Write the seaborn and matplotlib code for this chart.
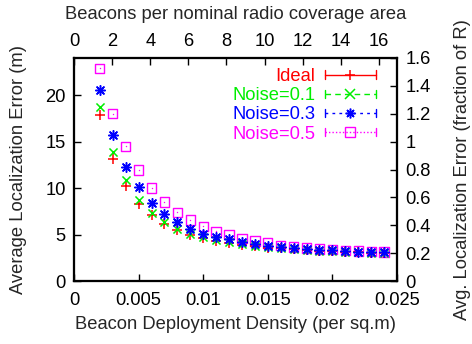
import matplotlib
matplotlib.use("Agg")
import matplotlib.pyplot as plt
import seaborn as sns
import pandas as pd
from matplotlib.lines import Line2D
from matplotlib.legend_handler import HandlerLine2D
from matplotlib.ticker import FuncFormatter

density = [0.002, 0.003, 0.004, 0.005, 0.006, 0.007, 0.008, 0.009, 0.010, 0.011, 0.012,
           0.013, 0.014, 0.015, 0.016, 0.017, 0.018, 0.019, 0.020, 0.021, 0.022, 0.023, 0.024]
ideal = [17.9, 13.1, 10.2, 8.3, 7.05, 6.1, 5.45, 5.0, 4.6, 4.3, 4.1, 3.9, 3.75, 3.6, 3.5,
         3.4, 3.33, 3.25, 3.18, 3.12, 3.07, 3.03, 3.0]
noise01 = [18.7, 13.9, 10.85, 8.75, 7.3, 6.3, 5.55, 5.07, 4.72, 4.4, 4.17, 3.97, 3.8, 3.66,
           3.54, 3.44, 3.36, 3.28, 3.21, 3.15, 3.1, 3.06, 3.02]
noise03 = [20.6, 15.7, 12.3, 10.1, 8.4, 7.2, 6.3, 5.6, 5.1, 4.7, 4.5, 4.22, 4.0, 3.82, 3.66,
           3.58, 3.48, 3.38, 3.3, 3.22, 3.16, 3.12, 3.08]
noise05 = [22.9, 18.0, 14.5, 11.95, 10.0, 8.5, 7.4, 6.55, 5.9, 5.35, 4.97, 4.6, 4.3, 4.1,
           3.85, 3.66, 3.54, 3.46, 3.36, 3.29, 3.22, 3.18, 3.12]
labels = ["Ideal", "Noise=0.1", "Noise=0.3", "Noise=0.5"]
colors = ["#ff0000", "#00ee00", "#0000ff", "#ff00ff"]
x_ticks = [0, 0.005, 0.01, 0.015, 0.02, 0.025]
y_ticks = [0, 5, 10, 15, 20]
top_ticks = [0, 2, 4, 6, 8, 10, 12, 14, 16]
right_ticks = [0, 0.2, 0.4, 0.6, 0.8, 1.0, 1.2, 1.4, 1.6]
R = 15.0
beacons_per_density = 678.0
FS = 13.2

sns.set_theme(style="white")
plt.rcParams['font.family'] = ['Liberation Sans', 'DejaVu Sans']
plt.rcParams['font.size'] = FS

fig = plt.figure(figsize=(4.72, 3.44), dpi=100)
ax = fig.add_axes([74/472, 1 - 281/344, 323/472, 223/344])

series = [ideal, noise01, noise03, noise05]
markers = ["+", "x", (8, 2, 0), "s"]
sizes = [45, 34, 48, 45]
for vals, lab, col, mk, sz in zip(series, labels, colors, markers, sizes):
    df = pd.DataFrame({"density": density, "err": vals})
    if mk == "s":
        sns.scatterplot(data=df, x="density", y="err", marker="s", s=sz, ax=ax,
                        facecolor="none", edgecolor=col, linewidth=1.0, zorder=2)
        sns.scatterplot(data=df, x="density", y="err", marker=".", s=4, ax=ax,
                        color=col, linewidth=0, zorder=2)
    else:
        sns.scatterplot(data=df, x="density", y="err", marker=mk, s=sz, ax=ax,
                        color=col, linewidth=1.1, zorder=3)

ax.set_xlim(0, 0.025)
ax.set_ylim(0, 24)
ax.set_xticks(x_ticks)
ax.set_yticks(y_ticks)
ax.xaxis.set_major_formatter(FuncFormatter(lambda v, p: "%g" % v))
ax.tick_params(direction="in", length=5, width=1, labelsize=FS, pad=6, color="black",
               labelcolor="black")
ax.tick_params(axis="x", pad=8)
ax.set_xlabel("Beacon Deployment Density (per sq.m)", fontsize=FS, labelpad=5)
ax.set_ylabel("Average Localization Error (m)", fontsize=FS, labelpad=13)
for sp in ax.spines.values():
    sp.set_linewidth(1.5)
    sp.set_color("black")

ax2 = ax.twinx()
ax2.set_ylim(0, 24 / R)
ax2.set_yticks(right_ticks)
ax2.yaxis.set_major_formatter(FuncFormatter(lambda v, p: "%g" % round(v, 1)))
ax2.set_ylabel("Avg. Localization Error (fraction of R)", fontsize=FS, labelpad=17)
ax2.tick_params(direction="in", length=5, width=1, labelsize=FS, pad=6, colors="black")

ax3 = ax.twiny()
ax3.set_xlim(0, 0.025 * beacons_per_density)
ax3.set_xticks(top_ticks)
ax3.set_xlabel("Beacons per nominal radio coverage area", fontsize=FS, labelpad=10)
ax3.tick_params(direction="in", length=5, width=1, labelsize=FS, pad=6, colors="black")
for a in (ax2, ax3):
    for sp in a.spines.values():
        sp.set_linewidth(1.5)
        sp.set_color("black")


class CapHandler(HandlerLine2D):
    def create_artists(self, legend, orig_handle, xdescent, ydescent, width, height,
                       fontsize, trans):
        arts = super().create_artists(legend, orig_handle, xdescent, ydescent, width,
                                      height, fontsize, trans)
        yc = (height - ydescent) / 2
        h = 3.0
        for xx in (-xdescent, -xdescent + width):
            cap = Line2D([xx, xx], [yc - h, yc + h], color=orig_handle.get_color(),
                         linewidth=1.0, transform=trans)
            arts.append(cap)
        return arts


styles = ["-", (0, (4, 3)), (0, (2, 3)), (0, (1, 1.5))]
handles = []
for lab, col, mk, ls in zip(labels, colors, markers, styles):
    if mk == "s":
        h = Line2D([], [], color=col, linestyle=ls, linewidth=1.0, marker="s",
                   markersize=7, markerfacecolor="none", markeredgecolor=col)
    else:
        h = Line2D([], [], color=col, linestyle=ls, linewidth=1.0, marker=mk,
                   markersize=7, markeredgewidth=1.1)
    handles.append(h)

leg = ax3.legend(handles, labels, loc="upper right", bbox_to_anchor=(0.935, 0.955),
                 markerfirst=False, frameon=False, numpoints=1, handlelength=2.8,
                 handletextpad=0.5, labelspacing=0.12, borderpad=0, borderaxespad=0,
                 fontsize=FS, handler_map={Line2D: CapHandler()})
for t, col in zip(leg.get_texts(), colors):
    t.set_color(col)

fig.savefig("out.png", dpi=100)
